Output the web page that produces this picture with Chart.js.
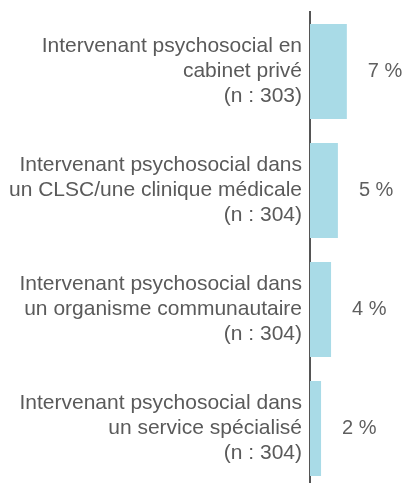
<!DOCTYPE html>
<html>
<head>
<meta charset="utf-8">
<script src="https://cdn.jsdelivr.net/npm/chart.js@4.4.1/dist/chart.umd.min.js"></script>
<style>
  body { margin: 0; background: #fff; overflow: hidden; }
</style>
</head>
<body>
<canvas id="chartIntervenants" width="410" height="488"></canvas>
<script>
var categories = [
    ['Intervenant psychosocial en', 'cabinet privé', '(n : 303)'],
    ['Intervenant psychosocial dans', 'un CLSC/une clinique médicale', '(n : 304)'],
    ['Intervenant psychosocial dans', 'un organisme communautaire', '(n : 304)'],
    ['Intervenant psychosocial dans', 'un service spécialisé', '(n : 304)']
];
var values = [7, 5.3, 4, 2.1];

// prints "7 %" etc. to the right of every bar
var valueLabels = {
    id: 'valueLabels',
    afterDatasetsDraw: function (chart) {
        var c = chart.ctx;
        var meta = chart.getDatasetMeta(0);
        c.save();
        c.font = '20px "Liberation Sans", Arial, sans-serif';
        c.fillStyle = '#5f5f5f';
        c.textAlign = 'left';
        c.textBaseline = 'middle';
        meta.data.forEach(function (bar, i) {
            c.fillText(Math.round(values[i]) + ' %', bar.x + 21, bar.y);
        });
        c.restore();
    }
};

var ctx = document.getElementById('chartIntervenants');
var myChart = new Chart(ctx, {
    type: 'bar',
    data: {
        labels: categories,
        datasets: [{
            data: values,
            backgroundColor: '#a9dbe7',
            categoryPercentage: 0.8,
            barPercentage: 1
        }]
    },
    options: {
        indexAxis: 'y',
        responsive: false,
        animation: false,
        layout: { padding: { top: 12, right: 0, bottom: 0, left: 0 } },
        plugins: {
            legend: { display: false },
            tooltip: { enabled: false }
        },
        scales: {
            x: {
                display: false,
                min: 0,
                max: 19
            },
            y: {
                afterFit: function (scale) {
                    scale.width = 310;
                    scale.paddingTop = 0;
                    scale.paddingBottom = 0;
                },
                grid: { display: false, drawTicks: false },
                border: { display: true, color: '#555', width: 2 },
                ticks: {
                    padding: 8,
                    color: '#5a5a5a',
                    font: { family: '"Liberation Sans", Arial, sans-serif', size: 21, lineHeight: 1.2 }
                }
            }
        }
    },
    plugins: [valueLabels]
});
</script>
</body>
</html>
